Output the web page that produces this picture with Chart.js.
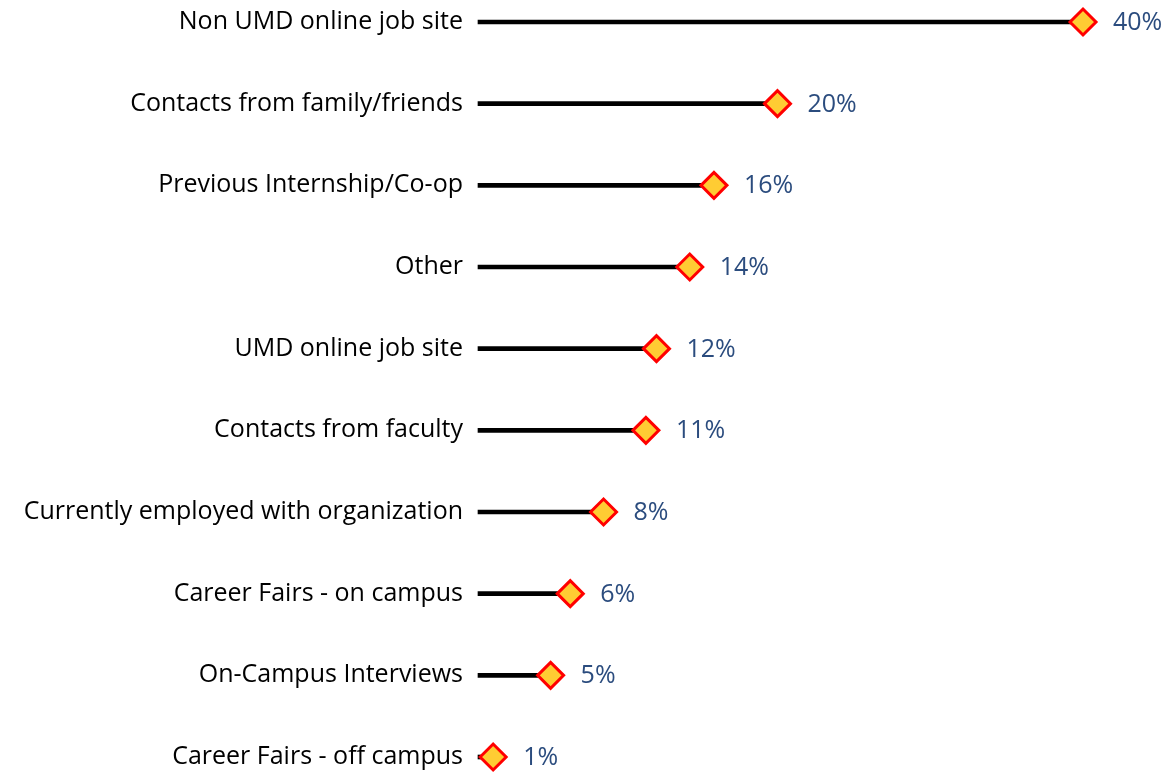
<!DOCTYPE html>
<html>
<head>
<meta charset="utf-8">
<script src="https://cdn.jsdelivr.net/npm/chart.js@4"></script>
<style>
    html, body { margin: 0; padding: 0; background: #fff; }
    #wrap { position: relative; width: 1171px; height: 773px; }
</style>
</head>
<body>
<div id="wrap"><canvas id="chart"></canvas></div>
<script>

// categories, top to bottom
const categories = [
    'Non UMD online job site',
    'Contacts from family/friends',
    'Previous Internship/Co-op',
    'Other',
    'UMD online job site',
    'Contacts from faculty',
    'Currently employed with organization',
    'Career Fairs - on campus',
    'On-Campus Interviews',
    'Career Fairs - off campus'
];

// share of respondents (%)
const shares = [40, 19.8, 15.6, 14, 11.8, 11.1, 8.3, 6.1, 4.8, 1.0];

// value labels shown next to the markers
const shareLabels = ['40%', '20%', '16%', '14%', '12%', '11%', '8%', '6%', '5%', '1%'];

const fontFamily = '"Open Sans", "Liberation Sans", sans-serif';

// draws the percentage text to the right of every marker
const valueLabels = {
    id: 'valueLabels',
    afterDatasetsDraw(chart) {
        const ctx = chart.ctx;
        const meta = chart.getDatasetMeta(1);
        ctx.save();
        ctx.font = '25px ' + fontFamily;
        ctx.fillStyle = '#2B4C7E';
        ctx.textAlign = 'left';
        ctx.textBaseline = 'middle';
        meta.data.forEach((pt, i) => {
            ctx.fillText(shareLabels[i], pt.x + 30, pt.y + 1);
        });
        ctx.restore();
    }
};

const ctx = document.getElementById('chart');

new Chart(ctx, {
    type: 'bar',
    data: {
        labels: categories,
        datasets: [{
            // the stems
            data: shares,
            backgroundColor: '#000',
            barThickness: 4,
            borderWidth: 0,
            clip: false,
            order: 2
        }, {
            // the diamond heads
            type: 'line',
            indexAxis: 'y',
            data: shares,
            showLine: false,
            clip: false,
            order: 1,
            pointStyle: 'rectRot',
            pointRadius: 13,
            pointHoverRadius: 13,
            pointBackgroundColor: '#FFCC33',
            pointBorderColor: '#FF0000',
            pointBorderWidth: 3
        }]
    },
    plugins: [valueLabels],
    options: {
        indexAxis: 'y',
        responsive: true,
        maintainAspectRatio: false,
        animation: false,
        layout: { padding: { top: 22, bottom: 12, right: 88, left: 0 } },
        scales: {
            x: {
                display: false,
                min: 0,
                max: 40
            },
            y: {
                offset: false,
                grid: { display: false, drawTicks: false },
                border: { display: false },
                ticks: {
                    color: '#000',
                    padding: 15,
                    font: { family: fontFamily, size: 25 }
                },
                afterFit: (scale) => {
                    scale.width = 478;
                    scale.paddingTop = 0;
                    scale.paddingBottom = 0;
                }
            }
        },
        plugins: {
            legend: { display: false },
            tooltip: { enabled: false }
        }
    }
});
</script>
</body>
</html>
